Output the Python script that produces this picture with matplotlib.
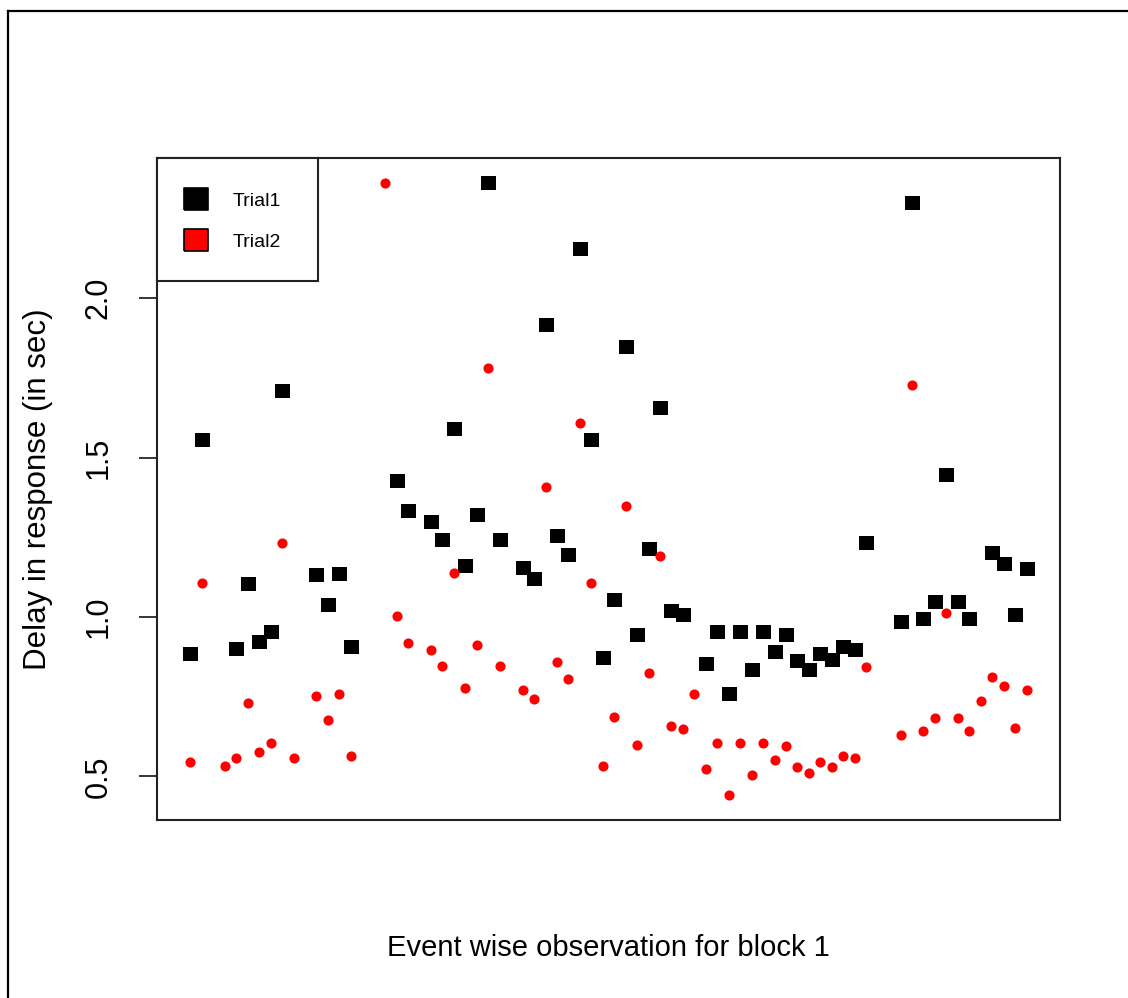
import numpy as np
import matplotlib
matplotlib.use("Agg")
import matplotlib.pyplot as plt
from matplotlib.lines import Line2D
from matplotlib.patches import Rectangle

plt.rcParams['font.family'] = ['Liberation Sans', 'DejaVu Sans']

nan = np.nan

# Event index within block 1
events = np.arange(1, 75)

series_names = ["Trial1", "Trial2"]

trial1 = [
    0.883, 1.555, nan, nan, 0.901, 1.102, 0.921, 0.954, 1.710, nan,
    nan, 1.131, 1.037, 1.134, 0.905, nan, nan, nan, 1.426, 1.331,
    nan, 1.297, 1.243, 1.591, 1.159, 1.320, 2.361, 1.243, nan, 1.154,
    1.119, 1.915, 1.255, 1.196, 2.155, 1.556, 0.871, 1.052, 1.847, 0.942,
    1.213, 1.656, 1.019, 1.007, nan, 0.854, 0.954, 0.759, 0.954, 0.833,
    0.954, 0.889, 0.942, 0.861, 0.835, 0.883, 0.866, 0.907, 0.895, 1.231,
    nan, nan, 0.983, 2.298, 0.995, 1.048, 1.444, 1.048, 0.995, nan,
    1.202, 1.165, 1.007, 1.149,
]

trial2 = [
    0.546, 1.107, nan, 0.534, 0.558, 0.729, 0.576, 0.606, 1.231, 0.558,
    nan, 0.752, 0.676, 0.759, 0.565, nan, nan, 2.363, 1.002, 0.918,
    nan, 0.895, 0.847, 1.138, 0.776, 0.912, 1.780, 0.847, nan, 0.771,
    0.742, 1.409, 0.859, 0.805, 1.608, 1.107, 0.534, 0.687, 1.349, 0.599,
    0.824, 1.190, 0.658, 0.647, 0.759, 0.523, 0.606, 0.440, 0.606, 0.504,
    0.606, 0.552, 0.594, 0.528, 0.509, 0.546, 0.529, 0.565, 0.558, 0.842,
    nan, nan, 0.629, 1.727, 0.641, 0.682, 1.013, 0.682, 0.641, 0.735,
    0.812, 0.782, 0.652, 0.771,
]

y_ticks = [0.5, 1.0, 1.5, 2.0]
y_tick_labels = ["0.5", "1.0", "1.5", "2.0"]

t1 = np.array(trial1, dtype=float)
t2 = np.array(trial2, dtype=float)

fig = plt.figure(figsize=(11.28, 9.98), dpi=100)
fig.patch.set_facecolor("white")
ax = fig.add_axes([157 / 1128, 1 - 820 / 998, (1060 - 157) / 1128, (820 - 158) / 998])

# square marker slightly wider than tall
sq = [(-1, -0.87), (1, -0.87), (1, 0.87), (-1, 0.87), (-1, -0.87)]

ax.plot(events, t1, linestyle="none", marker=sq, markersize=10.8,
        markerfacecolor="black", markeredgecolor="black", markeredgewidth=0)
ax.plot(events, t2, linestyle="none", marker="o", markersize=7.3,
        markerfacecolor="red", markeredgecolor="red", markeredgewidth=0)

# axis ranges padded by 4% of the data range on each side
xmin, xmax = events.min(), events.max()
xpad = 0.04 * (xmax - xmin)
ax.set_xlim(xmin - xpad, xmax + xpad)
allv = np.concatenate([t1[~np.isnan(t1)], t2[~np.isnan(t2)]])
ypad = 0.04 * (allv.max() - allv.min())
ax.set_ylim(allv.min() - ypad, allv.max() + ypad)

ax.set_xticks([])
ax.set_yticks(y_ticks)
ax.set_yticklabels(y_tick_labels, rotation=90, va="center")
ax.tick_params(axis="y", length=13, width=1.1, pad=18, labelsize=22, colors="black")
for sp in ax.spines.values():
    sp.set_linewidth(1.5)
    sp.set_color("#222222")

ax.set_ylabel("Delay in response (in sec)", fontsize=22.5, va="center")
ax.yaxis.set_label_coords((38 - 157) / 903, 0.5)
ax.set_xlabel("Event wise observation for block 1", fontsize=21, va="center")
ax.xaxis.set_label_coords(0.5, (820 - 948) / 662)

# legend box in the top-left corner
lw_, lh_ = (318 - 157) / 903, (281 - 158) / 662
ax.add_patch(Rectangle((0, 1 - lh_), lw_, lh_, transform=ax.transAxes,
                       facecolor="white", edgecolor="#222222", linewidth=1.5,
                       zorder=5, clip_on=False))
leg_sq = [(-1, -0.92), (1, -0.92), (1, 0.92), (-1, 0.92), (-1, -0.92)]
for name, col, yk in zip(series_names, ["black", "red"], [0.938, 0.876]):
    ax.plot([0.0432], [yk], transform=ax.transAxes, marker=leg_sq, markersize=17.3,
            markerfacecolor=col, markeredgecolor="black", markeredgewidth=1.2,
            linestyle="none", zorder=6, clip_on=False)
    ax.text(0.0842, yk - 0.004, name, transform=ax.transAxes, fontsize=14,
            va="center", ha="left", zorder=6)

# outer frame (left and top edges)
fig.add_artist(Line2D([8 / 1128, 8 / 1128], [0, 1 - 11 / 998], transform=fig.transFigure,
                      color="black", linewidth=1.6))
fig.add_artist(Line2D([8 / 1128, 1], [1 - 11 / 998, 1 - 11 / 998], transform=fig.transFigure,
                      color="black", linewidth=1.6))

fig.savefig("out.png", dpi=100, facecolor="white")
